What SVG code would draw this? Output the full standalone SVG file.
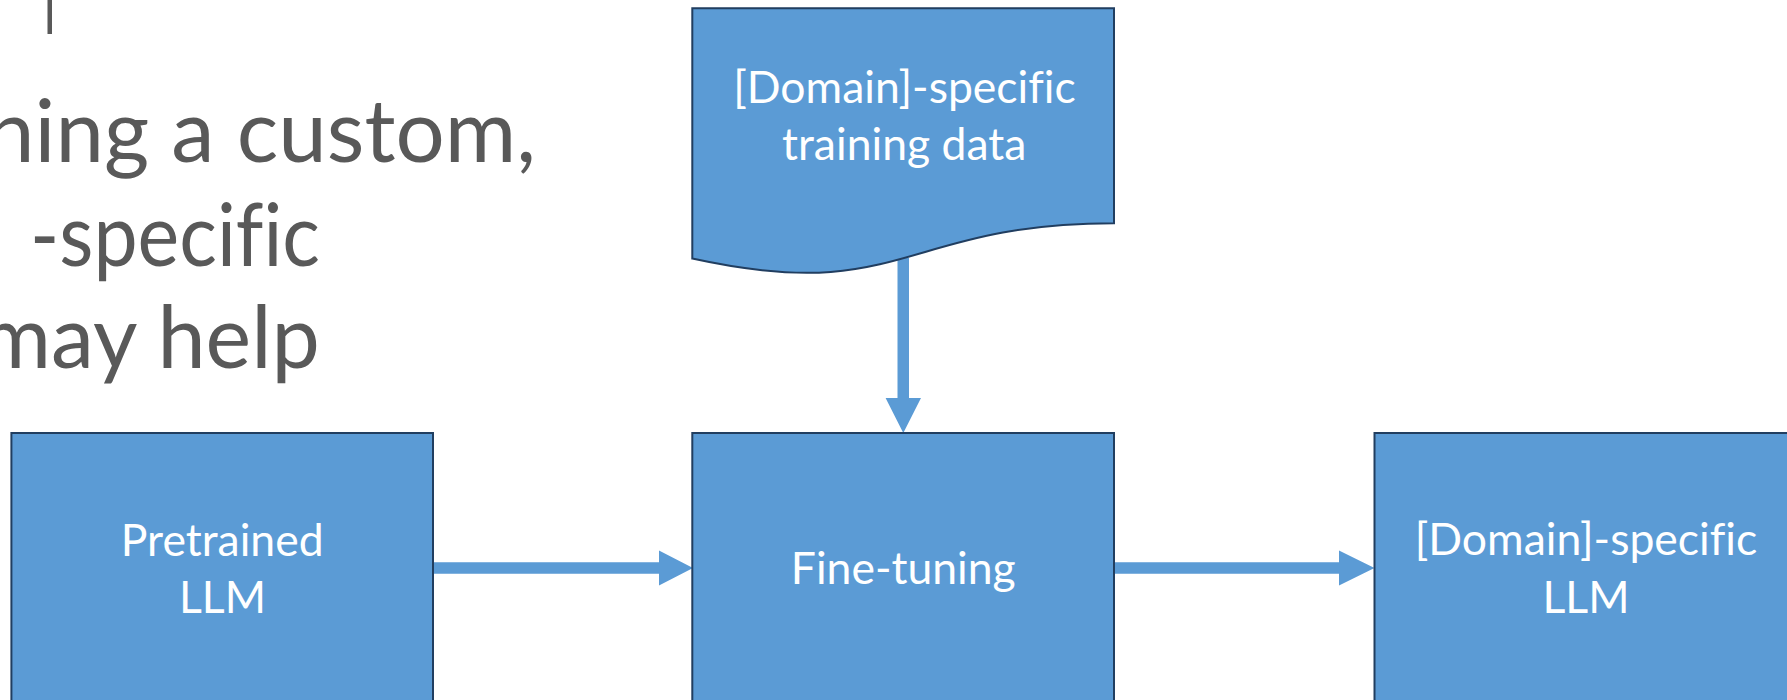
<svg xmlns="http://www.w3.org/2000/svg" width="1787" height="700" viewBox="0 0 1787 700">
  <defs>
    <style>
      .box { fill: #5B9BD5; stroke: #213E60; stroke-width: 2; }
      .label { font-family: Lato, "Noto Sans", "Liberation Sans", sans-serif; font-size: 44.5px; fill: #FFFFFF; text-anchor: middle; font-variant-ligatures: none; }
      .body { font-family: Lato, "Noto Sans", "Liberation Sans", sans-serif; font-size: 87px; fill: #595959; font-variant-ligatures: none; }
      .flow { fill: #5B9BD5; stroke: none; }
    </style>
  </defs>

  <rect width="1787" height="700" fill="#FFFFFF"/>

  <!-- slide body text, partly cut off at the left edge -->
  <g id="body-text">
    <rect x="47.5" y="0" width="4.5" height="34" fill="#595959"/>
    <text class="body" x="-14" y="162" textLength="550" lengthAdjust="spacingAndGlyphs">ning a custom,</text>
    <text class="body" x="30" y="265.5" textLength="290" lengthAdjust="spacingAndGlyphs">-specific</text>
    <text class="body" x="-20" y="368" textLength="340" lengthAdjust="spacingAndGlyphs">may help</text>
  </g>

  <!-- connectors: shaft rectangles with triangular heads -->
  <g id="connectors">
    <polygon class="flow" points="897.5,258 909,258 909,398 921,398 903.3,433 885.6,398 897.5,398"/>
    <polygon class="flow" points="433,562.3 659,562.3 659,550.5 693,568 659,585.5 659,573.7 433,573.7"/>
    <polygon class="flow" points="1114,562.3 1339,562.3 1339,550.5 1374.5,568 1339,585.5 1339,573.7 1114,573.7"/>
  </g>

  <g id="node-training-data">
    <path class="box" d="M692.3,8.3 H1114 V223.3 C903,223.3 903,305 692.3,258.6 Z"/>
    <text class="label" x="904.5" y="103.3">[Domain]-specific</text>
    <text class="label" x="904.2" y="160">training data</text>
  </g>

  <g id="node-pretrained">
    <rect class="box" x="11.4" y="433" width="421.6" height="272"/>
    <text class="label" x="222.2" y="556">Pretrained</text>
    <text class="label" x="222.5" y="613">LLM</text>
  </g>

  <g id="node-fine-tuning">
    <rect class="box" x="692.3" y="433" width="421.7" height="272"/>
    <text class="label" x="903.3" y="584">Fine-tuning</text>
  </g>

  <g id="node-domain-llm">
    <rect class="box" x="1374.5" y="433" width="421.7" height="272"/>
    <text class="label" x="1586" y="555">[Domain]-specific</text>
    <text class="label" x="1586" y="612.7">LLM</text>
  </g>
</svg>
